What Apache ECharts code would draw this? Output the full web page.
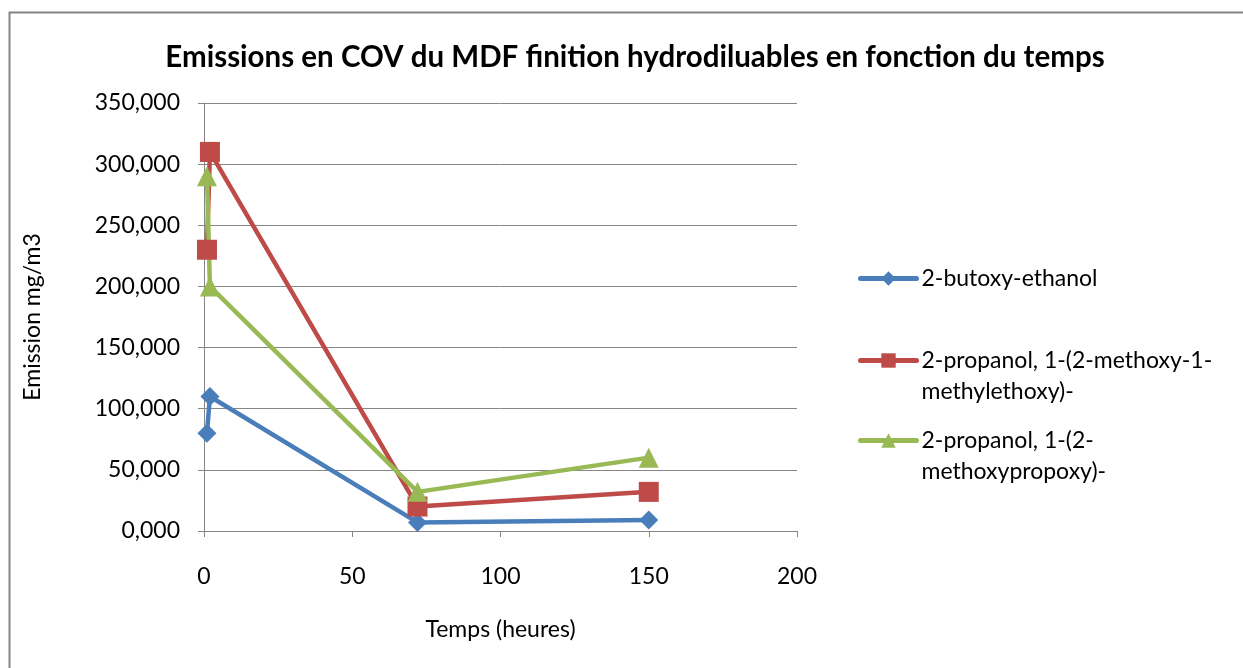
<!DOCTYPE html>
<html>
<head>
<meta charset="utf-8">
<script src="https://cdn.jsdelivr.net/npm/echarts@6/dist/echarts.min.js"></script>
<style>
  html, body { margin: 0; padding: 0; background: #fff; }
  #chart { width: 1243px; height: 668px; }
</style>
</head>
<body>
<div id="chart"></div>
<script>
// heures
const hours = [1, 2, 72, 150]
// emissions mg/m3
const butoxyEthanol = [80, 110, 7, 9]
const methoxyMethylethoxy = [230, 310, 20, 32]
const methoxypropoxy = [290, 200, 32, 60]

const seriesNames = [
  '2-butoxy-ethanol',
  '2-propanol, 1-(2-methoxy-1-methylethoxy)-',
  '2-propanol, 1-(2-methoxypropoxy)-'
]
// how Excel wrapped the legend text
const legendLabels = [
  '2-butoxy-ethanol',
  '2-propanol, 1-(2-methoxy-1-\nmethylethoxy)-',
  '2-propanol, 1-(2-\nmethoxypropoxy)-'
]
const colors = ['#4A7EBB', '#BE4B48', '#98B954']
const symbols = ['diamond', 'rect', 'triangle']
const symbolSizes = [19, 20, 20]

const font = 'Lato'
const gridColor = '#868686'

function pairs (ys) {
  return hours.map((h, i) => [h, ys[i]])
}

const allValues = [butoxyEthanol, methoxyMethylethoxy, methoxypropoxy]

const chart = echarts.init(document.getElementById('chart'))

// one legend per series; a blank first line keeps the icon on the first text line
const legendTops = [263, 314, 394]
const legends = seriesNames.map((name, i) => ({
  orient: 'vertical',
  left: 858,
  top: legendTops[i],
  padding: 0,
  itemWidth: 56,
  itemHeight: 18,
  selectedMode: false,
  data: [name],
  formatter: () => (legendLabels[i].indexOf('\n') > -1 ? ' \n' : '') + legendLabels[i],
  lineStyle: { width: 5, cap: 'round' },
  textStyle: {
    fontFamily: font,
    fontSize: 23,
    color: '#000',
    lineHeight: 31
  }
}))

chart.setOption({
  animation: false,
  title: {
    text: 'Emissions en COV du MDF finition hydrodiluables en fonction du temps',
    left: 630,
    textAlign: 'center',
    top: 37,
    textStyle: { fontFamily: font, fontSize: 29.5, fontWeight: 'bold', color: '#000' }
  },
  legend: legends,
  graphic: [{
    type: 'rect',
    left: 7,
    top: 10,
    shape: { width: 1300, height: 700 },
    style: { fill: 'none', stroke: gridColor, lineWidth: 2 },
    silent: true
  }],
  grid: { left: 204, right: 446, top: 103, bottom: 137 },
  xAxis: {
    type: 'value',
    min: 0,
    max: 200,
    interval: 50,
    name: 'Temps (heures)',
    nameLocation: 'middle',
    nameGap: 87,
    nameTextStyle: { fontFamily: font, fontSize: 23, color: '#000' },
    axisLine: { lineStyle: { color: gridColor, width: 1 } },
    axisTick: { show: true, length: 6, lineStyle: { color: gridColor } },
    axisLabel: { fontFamily: font, fontSize: 23, color: '#000', margin: 34 },
    splitLine: { show: false }
  },
  yAxis: {
    type: 'value',
    min: 0,
    max: 350,
    interval: 50,
    name: 'Emission mg/m3',
    nameLocation: 'middle',
    nameGap: 160,
    nameTextStyle: { fontFamily: font, fontSize: 23, color: '#000' },
    axisLine: { show: true, lineStyle: { color: gridColor, width: 1 } },
    axisTick: { show: true, length: 6, lineStyle: { color: gridColor } },
    axisLabel: {
      fontFamily: font,
      fontSize: 23,
      color: '#000',
      margin: 24,
      formatter: v => v.toFixed(3).replace('.', ',')
    },
    splitLine: { lineStyle: { color: gridColor, width: 1 } }
  },
  series: seriesNames.map((name, i) => ({
    name: name,
    type: 'line',
    data: pairs(allValues[i]),
    symbol: symbols[i],
    symbolSize: symbolSizes[i],
    color: colors[i],
    lineStyle: { width: 4.5, color: colors[i] },
    itemStyle: { color: colors[i] }
  }))
})
</script>
</body>
</html>
